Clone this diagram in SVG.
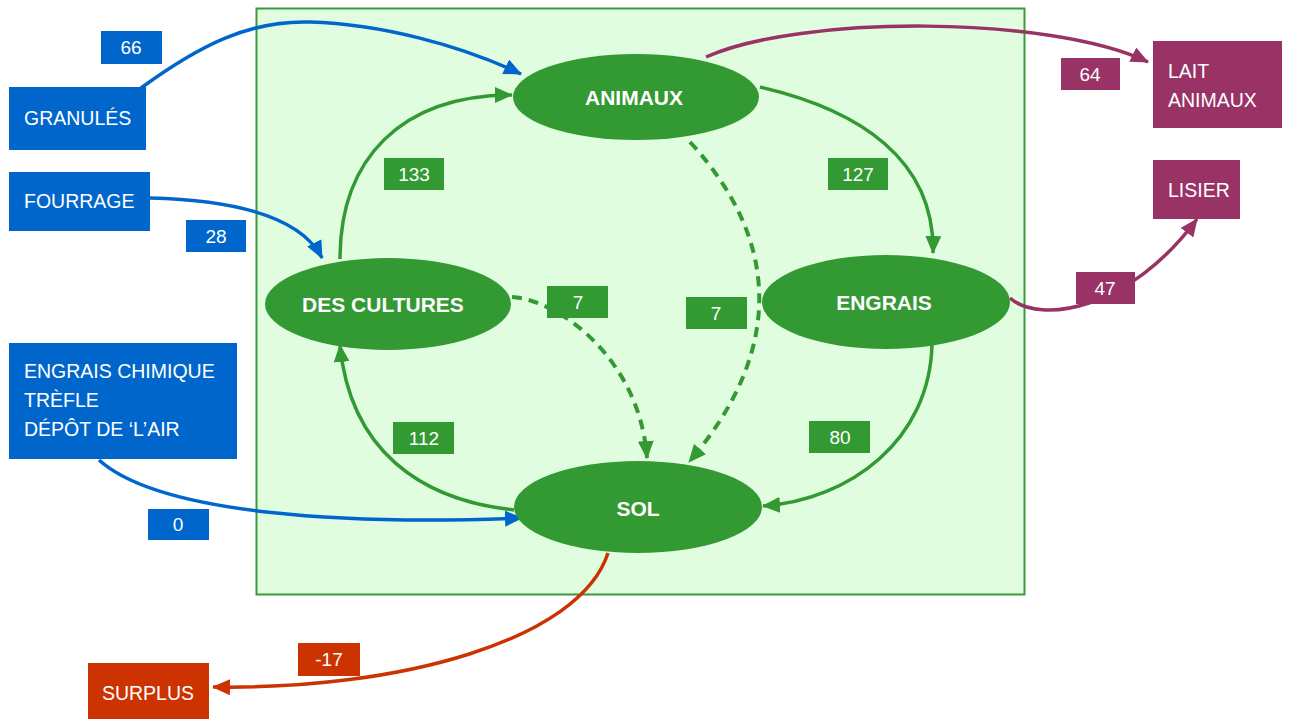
<svg xmlns="http://www.w3.org/2000/svg" width="1289" height="719" viewBox="0 0 1289 719">
<defs>
<style>
.t{font-family:"Liberation Sans",Arial,sans-serif;fill:#fff;font-size:19.5px}
.tb{font-family:"Liberation Sans",Arial,sans-serif;fill:#fff;font-size:21px;font-weight:bold}
.n{font-family:"Liberation Sans",Arial,sans-serif;fill:#fff;font-size:19px;text-anchor:middle}
.blue{fill:#0066cc}.pur{fill:#993366}.grn{fill:#339933}.red{fill:#cc3300}
.c{fill:none;stroke-width:3.5}
.cb{stroke:#0066cc}.cp{stroke:#993366}.cg{stroke:#339933}.cr{stroke:#cc3300}
.d{stroke-dasharray:10 7;stroke-width:4}
</style>
<marker id="ab" viewBox="0 0 18 16" refX="17" refY="8" markerWidth="18" markerHeight="16" markerUnits="userSpaceOnUse" orient="auto"><path d="M0,0 L18,8 L0,16 Z" fill="#0066cc"/></marker>
<marker id="ap" viewBox="0 0 18 16" refX="17" refY="8" markerWidth="18" markerHeight="16" markerUnits="userSpaceOnUse" orient="auto"><path d="M0,0 L18,8 L0,16 Z" fill="#993366"/></marker>
<marker id="ag" viewBox="0 0 18 16" refX="17" refY="8" markerWidth="18" markerHeight="16" markerUnits="userSpaceOnUse" orient="auto"><path d="M0,0 L18,8 L0,16 Z" fill="#339933"/></marker>
<marker id="ar" viewBox="0 0 18 16" refX="17" refY="8" markerWidth="18" markerHeight="16" markerUnits="userSpaceOnUse" orient="auto"><path d="M0,0 L18,8 L0,16 Z" fill="#cc3300"/></marker>
</defs>
<rect width="1289" height="719" fill="#fff"/>
<rect id="frame" x="256.5" y="8.5" width="768" height="586" fill="#e0fde0" stroke="#3a9a3a" stroke-width="2"/>

<g id="connectors">
<path class="c cb" d="M141,88 C200,45 250,20 310,22 C380,24 460,45 521,74" marker-end="url(#ab)"/>
<path class="c cb" d="M150,198 C230,200 300,215 322,258" marker-end="url(#ab)"/>
<path class="c cb" d="M99,460 C160,515 350,525 522,518" marker-end="url(#ab)"/>
<path class="c cp" d="M706,57 C800,15 1050,15 1148,62" marker-end="url(#ap)"/>
<path class="c cp" d="M1010,298 C1040,325 1130,310 1197,219" marker-end="url(#ap)"/>
<path class="c cr" d="M608,553 C580,640 400,690 213,687" marker-end="url(#ar)"/>
<path class="c cg" d="M340,259 C340,160 400,95 512,95" marker-end="url(#ag)"/>
<path class="c cg" d="M760,87 C860,110 935,160 933,253" marker-end="url(#ag)"/>
<path class="c cg" d="M932,344 C930,440 850,500 763,506" marker-end="url(#ag)"/>
<path class="c cg" d="M514,510 C420,500 350,450 340,345" marker-end="url(#ag)"/>
<path class="c cg d" d="M512,297 C560,300 640,360 647,458" marker-end="url(#ag)"/>
<path class="c cg d" d="M690,142 C780,240 785,350 689,462" marker-end="url(#ag)"/>
</g>

<g id="animaux"><ellipse class="grn" cx="636" cy="97" rx="123" ry="43"/><text class="tb" x="634" y="105" text-anchor="middle">ANIMAUX</text></g>
<g id="cultures"><ellipse class="grn" cx="388" cy="304" rx="123" ry="46"/><text class="tb" x="383" y="312" text-anchor="middle">DES CULTURES</text></g>
<g id="engrais"><ellipse class="grn" cx="886" cy="302" rx="124" ry="47"/><text class="tb" x="884" y="310" text-anchor="middle">ENGRAIS</text></g>
<g id="sol"><ellipse class="grn" cx="638" cy="507" rx="124" ry="46"/><text class="tb" x="638" y="516" text-anchor="middle">SOL</text></g>

<g id="granules"><rect class="blue" x="9" y="87" width="137" height="63"/><text class="t" x="24" y="125">GRANULÉS</text></g>
<g id="fourrage"><rect class="blue" x="9" y="172" width="141" height="59"/><text class="t" x="24" y="208">FOURRAGE</text></g>
<g id="chimique"><rect class="blue" x="9" y="343" width="228" height="116"/><text class="t" x="24" y="378">ENGRAIS CHIMIQUE</text><text class="t" x="24" y="407">TRÈFLE</text><text class="t" x="24" y="436">DÉPÔT DE ‘L’AIR</text></g>
<g id="lait"><rect class="pur" x="1153" y="41" width="129" height="87"/><text class="t" x="1168" y="78">LAIT</text><text class="t" x="1168" y="107">ANIMAUX</text></g>
<g id="lisier"><rect class="pur" x="1153" y="160" width="87" height="59"/><text class="t" x="1168" y="197">LISIER</text></g>
<g id="surplus"><rect class="red" x="88" y="663" width="121" height="56"/><text class="t" x="148" y="700" text-anchor="middle">SURPLUS</text></g>

<g id="labels">
<rect class="blue" x="101" y="31" width="61" height="33"/><text class="n" x="131" y="54">66</text>
<rect class="blue" x="186" y="220" width="60" height="32"/><text class="n" x="216" y="243">28</text>
<rect class="blue" x="148" y="509" width="61" height="31"/><text class="n" x="178" y="531">0</text>
<rect class="pur" x="1061" y="58" width="59" height="32"/><text class="n" x="1090" y="81">64</text>
<rect class="pur" x="1076" y="272" width="59" height="32"/><text class="n" x="1105" y="295">47</text>
<rect class="red" x="298" y="643" width="62" height="33"/><text class="n" x="329" y="666">-17</text>
<rect class="grn" x="384" y="158" width="60" height="32"/><text class="n" x="414" y="181">133</text>
<rect class="grn" x="828" y="158" width="60" height="32"/><text class="n" x="858" y="181">127</text>
<rect class="grn" x="547" y="286" width="61" height="32"/><text class="n" x="578" y="309">7</text>
<rect class="grn" x="686" y="297" width="61" height="32"/><text class="n" x="716" y="320">7</text>
<rect class="grn" x="393" y="422" width="61" height="32"/><text class="n" x="424" y="445">112</text>
<rect class="grn" x="809" y="421" width="61" height="32"/><text class="n" x="840" y="444">80</text>
</g>
</svg>
